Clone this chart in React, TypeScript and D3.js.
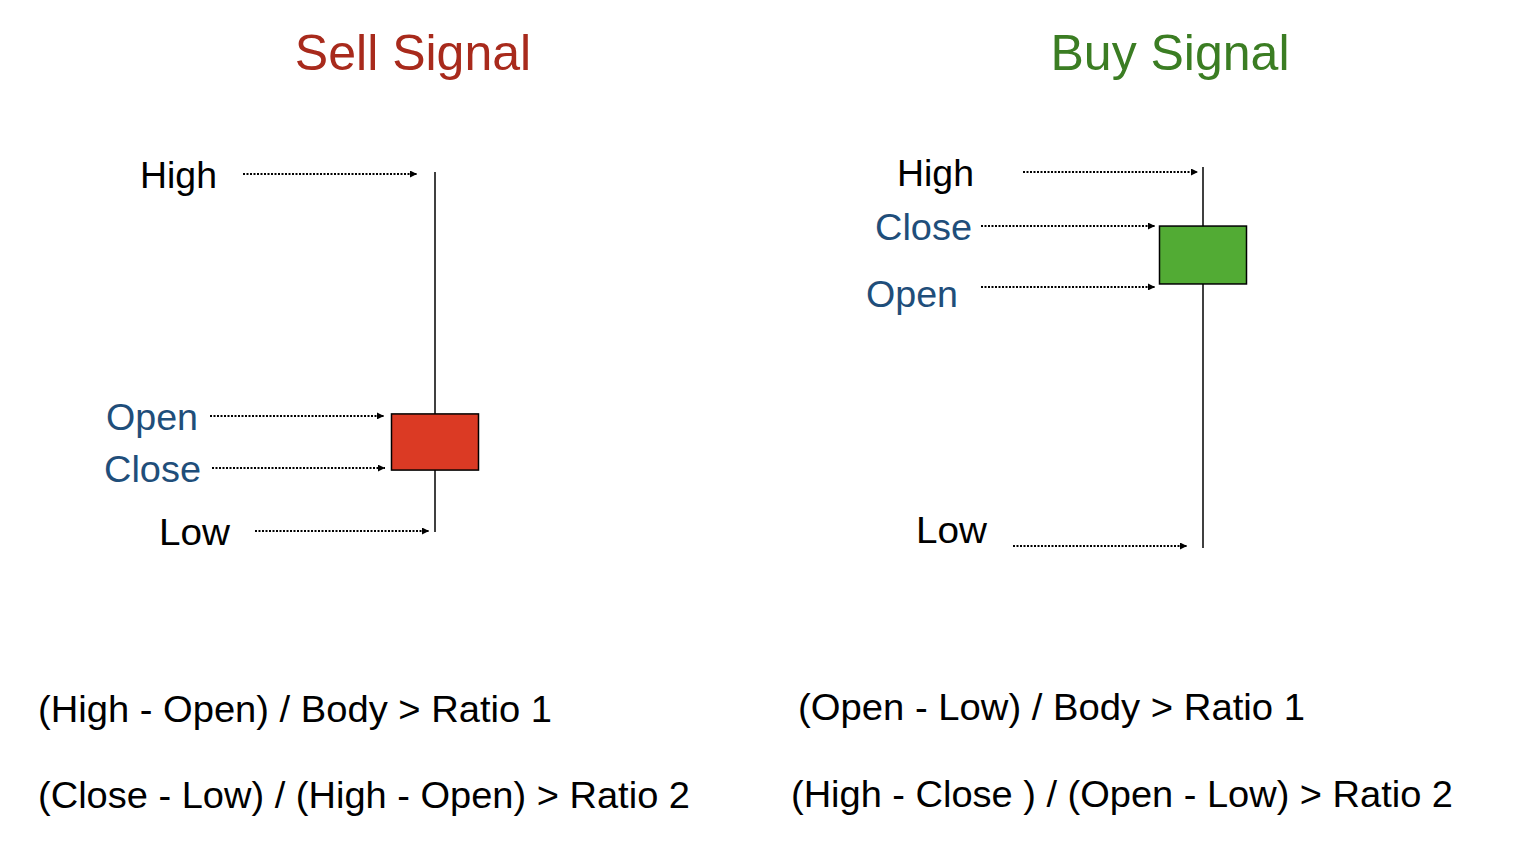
import { useEffect, useRef } from 'react';
import * as d3 from 'd3';

// price levels on a 0..100 scale for each candle
const sellLevels = [
  { key: 'High', value: 100 },
  { key: 'Open', value: 32.8 },
  { key: 'Close', value: 17.2 },
  { key: 'Low', value: 0 },
];
const buyLevels = [
  { key: 'High', value: 100 },
  { key: 'Close', value: 84.5 },
  { key: 'Open', value: 69.3 },
  { key: 'Low', value: 0 },
];
const sellFormulas = ['(High - Open) / Body > Ratio 1', '(Close - Low) / (High - Open) > Ratio 2'];
const buyFormulas = ['(Open - Low) / Body > Ratio 1', '(High - Close ) / (Open - Low) > Ratio 2'];

const FONT = '"Liberation Sans", Arial, Helvetica, sans-serif';
const BLUE = '#1f4e7a';

export default function App() {
  const svgRef = useRef<SVGSVGElement>(null);

  useEffect(() => {
    if (!svgRef.current) return;
    const svg = d3.select(svgRef.current);
    svg.selectAll('*').remove();

    svg.append('defs').append('marker')
      .attr('id', 'ah').attr('viewBox', '0 0 10 10').attr('refX', 10).attr('refY', 5)
      .attr('markerWidth', 3.5).attr('markerHeight', 3.5).attr('orient', 'auto')
      .append('path').attr('d', 'M0,0L10,5L0,10Z').attr('fill', '#000');

    const drawCandle = (
      levels: { key: string; value: number }[],
      cx: number, yTop: number, yBot: number, color: string,
      arrows: Record<string, { x0: number; x1: number; dy: number; tx: number; tdy: number; w: number }>,
    ) => {
      const y = d3.scaleLinear().domain([0, 100]).range([yBot, yTop]);
      const v = Object.fromEntries(levels.map(l => [l.key, l.value]));
      const g = svg.append('g');
      g.append('line').attr('x1', cx).attr('x2', cx).attr('y1', y(v.High)).attr('y2', y(v.Low))
        .attr('stroke', '#000').attr('stroke-width', 1.5);
      const top = Math.max(v.Open, v.Close), bot = Math.min(v.Open, v.Close);
      g.append('rect').attr('x', cx - 43.5).attr('width', 87)
        .attr('y', y(top)).attr('height', y(bot) - y(top))
        .attr('fill', color).attr('stroke', '#000').attr('stroke-width', 1.5);
      levels.forEach(l => {
        const a = arrows[l.key];
        const yy = y(l.value) + a.dy;
        g.append('line').attr('x1', a.x0).attr('x2', a.x1).attr('y1', yy).attr('y2', yy)
          .attr('stroke', '#000').attr('stroke-width', 2).attr('stroke-dasharray', '2 1.5')
          .attr('marker-end', 'url(#ah)');
        g.append('text').attr('x', a.tx).attr('y', yy + a.tdy)
          .attr('font-family', FONT).attr('font-size', 37)
          .attr('textLength', a.w).attr('lengthAdjust', 'spacingAndGlyphs')
          .attr('fill', l.key === 'High' || l.key === 'Low' ? '#000' : BLUE)
          .text(l.key);
      });
    };

    drawCandle(sellLevels, 435, 172, 532, '#db3a24', {
      High: { x0: 243, x1: 417, dy: 2, tx: 140, tdy: 14, w: 77 },
      Open: { x0: 210, x1: 384, dy: 2, tx: 106, tdy: 14, w: 92 },
      Close: { x0: 212, x1: 385, dy: -2, tx: 104, tdy: 14, w: 97 },
      Low: { x0: 255, x1: 429, dy: -1, tx: 159, tdy: 14, w: 71 },
    });
    drawCandle(buyLevels, 1203, 167, 548, '#52ab34', {
      High: { x0: 1023, x1: 1198, dy: 5, tx: 897, tdy: 14, w: 77 },
      Close: { x0: 981, x1: 1155, dy: 0, tx: 875, tdy: 14, w: 97 },
      Open: { x0: 981, x1: 1155, dy: 3, tx: 866, tdy: 20, w: 92 },
      Low: { x0: 1013, x1: 1187, dy: -2, tx: 916, tdy: -3, w: 71 },
    });

    const titles = [
      { text: 'Sell Signal', x: 413, color: '#a82a1c' },
      { text: 'Buy Signal', x: 1170, color: '#3b7d23' },
    ];
    titles.forEach(t => svg.append('text').attr('x', t.x).attr('y', 70).attr('text-anchor', 'middle')
      .attr('font-family', FONT).attr('font-size', 50).attr('fill', t.color).text(t.text));

    const formula = (lines: string[], x: number[], y: number[], w: number[]) => lines.forEach((s, i) =>
      svg.append('text').attr('x', x[i]).attr('y', y[i]).attr('font-family', FONT)
        .attr('font-size', 37).attr('textLength', w[i]).attr('lengthAdjust', 'spacingAndGlyphs')
        .attr('fill', '#000').text(s));
    formula(sellFormulas, [38, 38], [722, 808], [514, 652]);
    formula(buyFormulas, [798, 791], [720, 807], [507, 662]);
  }, []);

  return (
    <svg ref={svgRef} width={1525} height={860}
      style={{ position: 'fixed', left: 0, top: 0, background: '#fff' }} />
  );
}
